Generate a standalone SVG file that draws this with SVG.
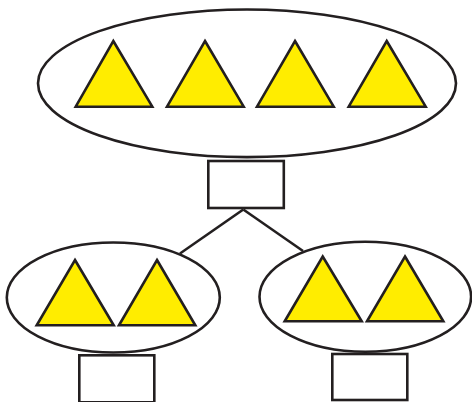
<svg xmlns="http://www.w3.org/2000/svg" width="472" height="402" viewBox="0 0 472 402">
<style>
.o{fill:none;stroke:#231f20;stroke-width:2.6}
.b{fill:#fff;stroke:#231f20;stroke-width:2.6}
.t{fill:#ffed00;stroke:#231f20;stroke-width:2.6;stroke-linejoin:miter}
.c{stroke:#231f20;stroke-width:2.6;fill:none}
</style>
<rect width="472" height="402" fill="#fff"/>
<g id="connectors">
<line class="c" x1="243.3" y1="209.5" x2="180" y2="253.5"/>
<line class="c" x1="243.3" y1="209.5" x2="303" y2="251"/>
</g>
<g id="top">
<ellipse class="o" cx="247" cy="83.3" rx="209" ry="73.8"/>
<polygon class="t" points="113.3,41 152.3,106.7 75.7,106.7"/>
<polygon class="t" points="205,41 243.7,106.7 167,106.7"/>
<polygon class="t" points="295,41 333.7,106.7 257,106.7"/>
<polygon class="t" points="386.7,41 425.7,106.7 348.7,106.7"/>
</g>
<g id="top-box"><rect class="b" x="208.3" y="161" width="75.5" height="47"/></g>
<g id="left">
<ellipse class="o" cx="113.3" cy="297.5" rx="106.5" ry="55"/>
<polygon class="t" points="75,260 113.7,325.3 36.7,325.3"/>
<polygon class="t" points="157,260 195.3,325.3 119,325.3"/>
</g>
<g id="right">
<ellipse class="o" cx="365.3" cy="296.7" rx="105.8" ry="55"/>
<polygon class="t" points="322.7,256.5 361.7,321.3 284.7,321.3"/>
<polygon class="t" points="405,256.5 443.3,321.3 367,321.3"/>
</g>
<g id="left-box"><rect class="b" x="79.3" y="355.3" width="75" height="47"/></g>
<g id="right-box"><rect class="b" x="332.3" y="354" width="75" height="46"/></g>
</svg>
